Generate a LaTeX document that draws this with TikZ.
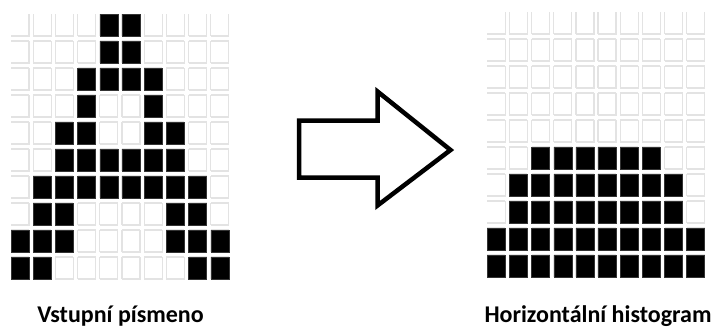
\documentclass[tikz,border=0pt]{standalone}
\usepackage{fontspec}
\setmainfont{Carlito}
\tikzset{
  emptycell/.style={draw=black!11, line width=1.2pt},
  fullcell/.style={fill=black, draw=black!80, line width=0.5pt},
  bigarrow/.style={draw=black, line width=4.5pt, line join=miter, fill=white},
  caption/.style={font=\bfseries\fontsize{24}{28}\selectfont, anchor=base, inner sep=0pt},
}
\begin{document}
\begin{tikzpicture}[x=1pt,y=-1pt]
\useasboundingbox (0,0) rectangle (720,330);
% ---------- left grid (input letter) ----------
\foreach \r in {0,...,9} {
  \foreach \c in {0,...,9} {
    \pgfmathsetmacro\xa{11+22.2*\c}
    \pgfmathsetmacro\xb{\xa+18}
    \pgfmathsetmacro\ya{14+27*\r}
    \pgfmathsetmacro\yb{\ya+22}
    \draw[emptycell] (\xa,\yb) -- (\xb,\yb) -- (\xb,\ya);
    \ifnum\c>0 \draw[emptycell] (\xa,\ya) -- (\xa,\yb); \fi
    \ifnum\r>0 \draw[emptycell] (\xa,\ya) -- (\xb,\ya); \fi
  }
}
\foreach \r/\cl in {0/{4,5},1/{4,5},2/{3,4,5,6},3/{3,6},4/{2,3,6,7},5/{2,3,4,5,6,7},6/{1,2,3,4,5,6,7,8},7/{1,2,7,8},8/{0,1,2,7,8,9},9/{0,1,8,9}} {
  \foreach \c in \cl {
    \pgfmathsetmacro\xa{11+22.2*\c}
    \pgfmathsetmacro\ya{14+27*\r}
    \draw[fullcell] (\xa,\ya) rectangle ++(18,22);
  }
}
% ---------- right grid (histogram) ----------
\foreach \r in {0,...,9} {
  \foreach \c in {0,...,9} {
    \pgfmathsetmacro\xa{487.3+22.15*\c}
    \pgfmathsetmacro\xb{\xa+18}
    \pgfmathsetmacro\ya{12+27*\r}
    \pgfmathsetmacro\yb{\ya+22}
    \draw[emptycell] (\xa,\yb) -- (\xb,\yb) -- (\xb,\ya);
    \ifnum\c>0 \draw[emptycell] (\xa,\ya) -- (\xa,\yb); \fi
    \ifnum\r>0 \draw[emptycell] (\xa,\ya) -- (\xb,\ya); \fi
  }
}
\foreach \r/\cl in {5/{2,3,4,5,6,7},6/{1,2,3,4,5,6,7,8},7/{1,2,3,4,5,6,7,8},8/{0,1,2,3,4,5,6,7,8,9},9/{0,1,2,3,4,5,6,7,8,9}} {
  \foreach \c in \cl {
    \pgfmathsetmacro\xa{487.3+22.15*\c}
    \pgfmathsetmacro\ya{12+27*\r}
    \draw[fullcell] (\xa,\ya) rectangle ++(18,22);
  }
}
% ---------- block arrow ----------
\draw[bigarrow] (299,120.5) -- (377.5,120.5) -- (377.5,91.5) -- (450.5,150)
  -- (377.5,205.5) -- (377.5,177.5) -- (299,177.5) -- cycle;
% ---------- captions ----------
\node[caption] (leftcap) at (120.5,322) {Vstupní písmeno};
\node[caption] (rightcap) at (598,322) {Horizontální histogram};
\end{tikzpicture}
\end{document}
